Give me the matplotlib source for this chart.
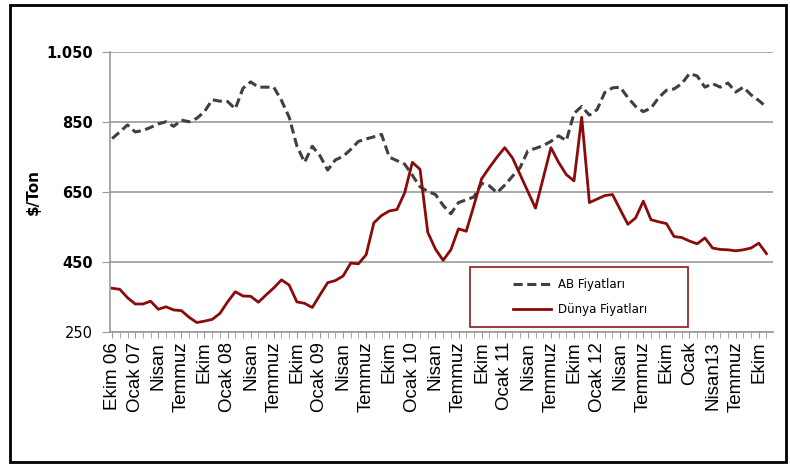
import matplotlib
matplotlib.use('Agg')
import matplotlib.pyplot as plt
from matplotlib.patches import Rectangle

# aylık veriler: Ekim 2006 - Kasım 2013
ab_fiyat = [803, 822, 842, 822, 826, 835, 845, 851, 838, 856,
            851, 861, 880, 914, 910, 909, 888, 947, 965, 950,
            950, 950, 912, 864, 782, 735, 781, 754, 713, 742,
            752, 772, 795, 802, 808, 815, 750, 740, 730, 698,
            665, 652, 643, 612, 588, 620, 628, 636, 675, 668,
            648, 670, 695, 720, 768, 775, 783, 795, 811, 797,
            875, 895, 870, 886, 935, 948, 950, 920, 895, 880,
            890, 920, 941, 945, 960, 989, 982, 950, 960, 950,
            962, 936, 950, 928, 912, 893]

dunya_fiyat = [375, 372, 348, 330, 330, 338, 315, 322, 313, 311,
               292, 277, 281, 286, 303, 336, 365, 353, 352, 335,
               356, 376, 399, 384, 336, 332, 320, 356, 391, 397,
               410, 447, 445, 471, 562, 583, 596, 600, 648, 735,
               715, 535, 487, 455, 485, 545, 538, 612, 688, 720,
               750, 777, 748, 700, 652, 604, 690, 777, 735, 700,
               682, 864, 620, 630, 640, 643, 600, 558, 576, 624,
               571, 565, 560, 523, 520, 510, 502, 519, 490, 486,
               485, 482, 485, 490, 504, 474]

ay_etiket = ['Ekim 06', 'Ocak 07', 'Nisan', 'Temmuz', 'Ekim', 'Ocak 08', 'Nisan',
             'Temmuz', 'Ekim', 'Ocak 09', 'Nisan', 'Temmuz', 'Ekim', 'Ocak 10',
             'Nisan', 'Temmuz', 'Ekim', 'Ocak 11', 'Nisan', 'Temmuz', 'Ekim',
             'Ocak 12', 'Nisan', 'Temmuz', 'Ekim', 'Ocak', 'Nisan13', 'Temmuz', 'Ekim']

y_degerler = [250, 450, 650, 850, 1050]
y_etiket = ['250', '450', '650', '850', '1.050']

fig = plt.figure(figsize=(7.9, 4.66), dpi=100)
ax = fig.add_axes([0.139, 0.2876, 0.839, 0.6004])

# dış çerçeve
fig.patches.append(Rectangle((10 / 790, 4 / 466), 776 / 790, 457 / 466,
                             transform=fig.transFigure, fill=False,
                             edgecolor='black', linewidth=2))

aylar = list(range(len(ab_fiyat)))
ax.plot(aylar, ab_fiyat, color='#404040', linewidth=2.2, dashes=(3, 1.5),
        label='AB Fiyatları')
ax.plot(aylar, dunya_fiyat, color='#8B0A0A', linewidth=2.0,
        label='Dünya Fiyatları')

ax.set_ylim(250, 1050)
ax.set_xlim(-0.3, 85.8)
ax.set_yticks(y_degerler)
ax.set_yticklabels(y_etiket, fontsize=10.5, fontweight='bold', family='DejaVu Sans')
ax.get_yticklabels()[0].set_fontweight('normal')
ax.yaxis.grid(True, color='#999999', linewidth=1.2)
ax.set_axisbelow(True)

ax.set_xticks(range(0, 85, 3))
ax.set_xticklabels(ay_etiket, rotation=90, fontsize=13.5, family='Liberation Sans')
ax.set_xticks(aylar, minor=True)
ax.tick_params(axis='x', which='both', length=4, color='#999999', pad=3)
ax.tick_params(axis='y', length=6, color='#999999', pad=6)

for s in ['top', 'right']:
    ax.spines[s].set_visible(False)
ax.spines['left'].set_color('#999999')
ax.spines['bottom'].set_color('#999999')
ax.spines['left'].set_linewidth(1.2)
ax.spines['bottom'].set_linewidth(1.2)

ax.set_ylabel('$/Ton', fontsize=11, fontweight='bold', labelpad=4)

# lejant kutusu
ax.add_patch(Rectangle((0.543, 0.018), 0.329, 0.214, transform=ax.transAxes,
                       fill=False, edgecolor='#8B1A1A', linewidth=1.2, zorder=5))
ax.legend(loc='center', bbox_to_anchor=(0.71, 0.125), frameon=False,
          fontsize=8.5, handlelength=3.2, labelspacing=1.0, handletextpad=0.6)

fig.savefig('out.png', dpi=100)
